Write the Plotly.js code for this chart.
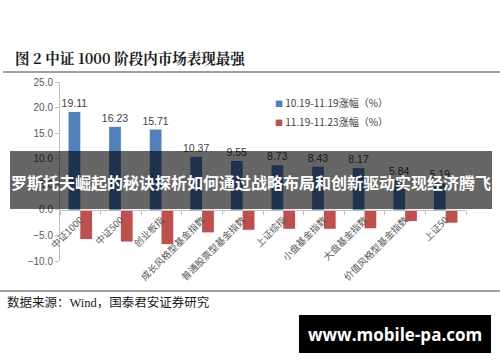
<!DOCTYPE html>
<html><head><meta charset="utf-8">
<script src="https://cdn.plot.ly/plotly-3.0.1.min.js"></script>
<style>html,body{margin:0;padding:0;background:#fff}#c{width:500px;height:362px}</style>
</head><body><div id="c"></div>
<script>
const categories = ["中证1000","中证500","创业板指","成长风格型基金指数","普通股票型基金指数","上证综指","小盘基金指数","大盘基金指数","价值风格型基金指数","上证50"];
const rise1 = [19.11,16.23,15.71,10.37,9.55,8.73,8.43,8.17,5.84,5.19];
const rise2 = [-5.7,-6.2,-6.7,-4.4,-3.9,-3.7,-3.7,-3.6,-2.2,-2.5];
const seriesNames = ["10.19-11.19涨幅（%）","11.19-11.23涨幅（%）"];
const seriesColors = ['#4F81BD','#C0504D'];
const yTicks = [-10,-5,0,5,10,15,20,25];

const L=60, R=466, T=82, B=261;
const px = x => (x-L)/(R-L);
const py = y => (B-y)/(B-T);
const cjk = '"Noto Sans CJK SC", "Noto Sans", sans-serif';

const traces = [
  {type:'bar', name:seriesNames[0], x:categories, y:rise1, marker:{color:seriesColors[0]},
   text:rise1.map(v=>v.toFixed(2)), textposition:'outside', cliponaxis:false, constraintext:'none',
   textfont:{size:10.5, color:'#404040', family:'"Liberation Sans", Arial, sans-serif'}},
  {type:'bar', name:seriesNames[1], x:categories, y:rise2, marker:{color:seriesColors[1]}}
];

const legendAnn = seriesNames.map((n,i)=>({xref:'paper', yref:'paper', x:px(273), y:py(102+i*19), xanchor:'left', yanchor:'middle', showarrow:false,
  text:'<span style="color:'+seriesColors[i]+';font-size:8px">■</span> '+n, font:{size:10, color:'#404040', family:cjk}}));

const layout = {
  width:500, height:362,
  margin:{l:L, r:500-R, t:T, b:362-B, pad:0},
  paper_bgcolor:'#fff', plot_bgcolor:'#fff',
  barmode:'group', bargap:0.42, bargroupgap:0,
  showlegend:false,
  xaxis:{type:'category', anchor:'free', position:10/35, showline:true, linecolor:'#bfbfbf', linewidth:1,
    ticks:'outside', tickson:'boundaries', ticklen:4, tickcolor:'#bfbfbf', tickangle:-45,
    tickfont:{size:9.5, color:'#595959', family:cjk}, showgrid:false, zeroline:false, automargin:false},
  yaxis:{range:[-10,25], tickvals:yTicks, tickformat:'.1f', showline:true, linecolor:'#bfbfbf', linewidth:1,
    ticks:'outside', ticklen:4, tickcolor:'#bfbfbf', showgrid:false, zeroline:false,
    tickfont:{size:10, color:'#595959', family:'"Liberation Sans", Arial, sans-serif'}, automargin:false},
  shapes:[
    {type:'line', xref:'paper', yref:'paper', x0:px(3), x1:px(500), y0:py(72), y1:py(72), line:{color:'#808080', width:1.5}},
    {type:'line', xref:'paper', yref:'paper', x0:px(0), x1:px(500), y0:py(291), y1:py(291), line:{color:'#808080', width:1.5}},
    {type:'rect', xref:'paper', yref:'paper', layer:'above', x0:px(10), x1:px(492), y0:py(151), y1:py(209), fillcolor:'rgba(0,0,0,0.6)', line:{width:0}},
    {type:'rect', xref:'paper', yref:'paper', layer:'above', x0:px(299), x1:px(491), y0:py(315), y1:py(353), fillcolor:'#000', line:{width:0}}
  ],
  annotations:legendAnn.concat([
    {xref:'paper', yref:'paper', x:px(13), y:py(58), xanchor:'left', yanchor:'middle', showarrow:false,
     text:'<b>图 2 中证 1000 阶段内市场表现最强</b>', font:{size:14.5, color:'#1a1a1a', family:'"Noto Serif CJK SC", "Noto Sans CJK SC", serif'}},
    {xref:'paper', yref:'paper', x:px(5), y:py(302), xanchor:'left', yanchor:'middle', showarrow:false,
     text:'数据来源：Wind，国泰君安证券研究', font:{size:12.5, color:'#1a1a1a', family:'"Liberation Serif", "Noto Sans CJK SC", serif'}},
    {xref:'paper', yref:'paper', x:px(251), y:py(182), xanchor:'center', yanchor:'middle', showarrow:false,
     text:'<b>罗斯托夫崛起的秘诀探析如何通过战略布局和创新驱动实现经济腾飞</b>', font:{size:16, color:'#fff', family:cjk}},
    {xref:'paper', yref:'paper', x:px(395), y:py(334), xanchor:'center', yanchor:'middle', showarrow:false,
     text:'<b>www.mobile-pa.com</b>', font:{size:17, color:'#fff', family:'"Open Sans", "DejaVu Sans", sans-serif'}}
  ])
};
Plotly.newPlot('c', traces, layout, {displayModeBar:false, staticPlot:true});
</script>
</body></html>
